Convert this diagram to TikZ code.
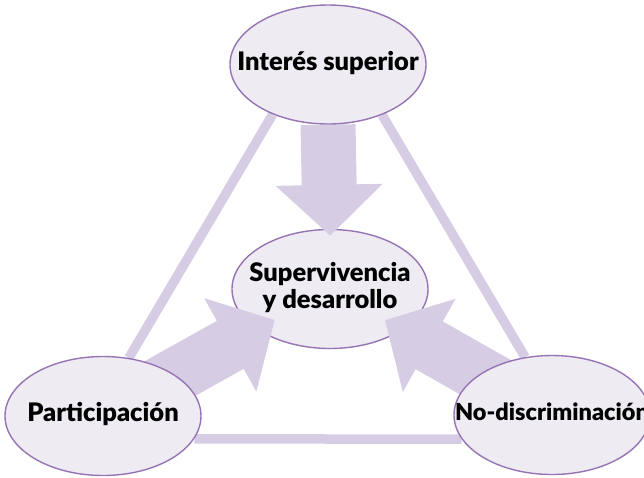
\documentclass[tikz,border=0pt]{standalone}
\usepackage{fontspec}
\setmainfont{Lato}[BoldFont={Lato Black}]
\usetikzlibrary{shapes.geometric,arrows.meta}
\definecolor{lilafill}{RGB}{238,235,243}
\definecolor{lilaline}{RGB}{150,116,180}
\definecolor{lilaband}{RGB}{214,205,228}
\pgfdeclarelayer{background}
\pgfdeclarelayer{foreground}
\pgfsetlayers{background,main,foreground}
\newcommand*{\bub}[1]{\makebox[0pt]{\begin{tabular}{@{}c@{}}#1\end{tabular}}}
\tikzset{
  bubble/.style={ellipse,draw=lilaline,line width=1.4pt,fill=lilafill,
    minimum width=196pt,minimum height=119pt,inner sep=0pt,
    font=\fontsize{25.5}{26}\selectfont\bfseries},
  band/.style={draw=lilaband,line width=9.5pt},
  bigarrow/.style={draw=lilaband,line width=55pt,
    -{Triangle[width=104pt,length=51pt,fill=lilaband]}}
}

\begin{document}
\begin{tikzpicture}[x=1pt,y=-1pt]
\useasboundingbox (0,0) rectangle (644,477);
\node[bubble] (sv) at (330,289) {\bub{Supervivencia\\y desarrollo}};
\begin{pgfonlayer}{foreground}
\node[bubble] (top) at (328,64.5) {\bub{Interés superior}};
\node[bubble] (part) at (103,416) {\bub{Participación}};
\node[bubble,font=\fontsize{23.5}{26}\selectfont\bfseries] (nd) at (552,415) {\bub{No-discriminación}};
\end{pgfonlayer}
\begin{pgfonlayer}{background}
\draw[band] (top.222) -- (part.66);
\draw[band] (top.317) -- (nd.115);
\draw[band] (part.-14) -- (nd.195);
\end{pgfonlayer}
\draw[bigarrow,shorten >=-7pt] (top.south) -- (sv.north);
\draw[bigarrow,shorten >=-20pt] (part.center) -- (sv);
\draw[bigarrow,shorten >=-20pt] (nd.center) -- (sv);
\end{tikzpicture}
\end{document}
